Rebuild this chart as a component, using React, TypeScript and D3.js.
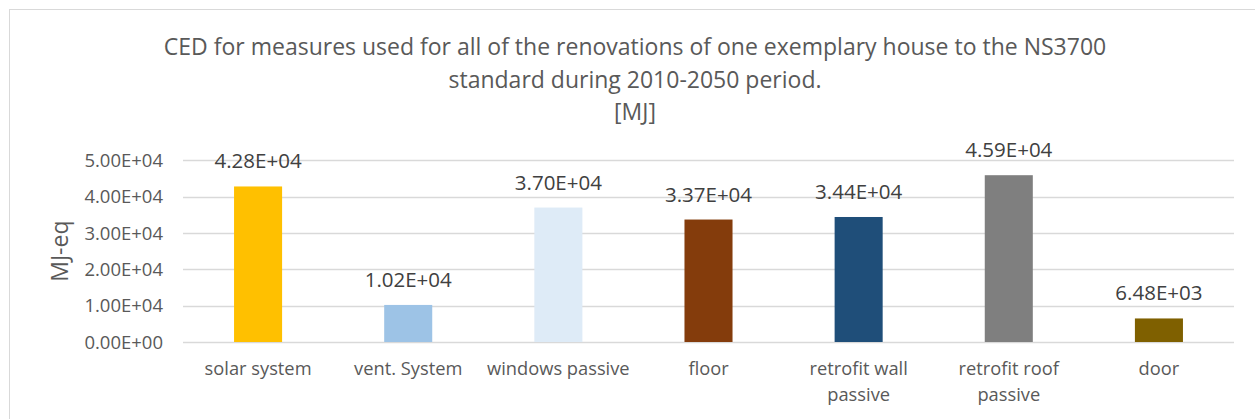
import React, {useEffect, useRef} from 'react';
import * as d3 from "d3";

const categories = [
    ["solar system"],
    ["vent. System"],
    ["windows passive"],
    ["floor"],
    ["retrofit wall", "passive"],
    ["retrofit roof", "passive"],
    ["door"]
];
const values = [42800, 10200, 37000, 33700, 34400, 45900, 6480];
const valueLabels = ["4.28E+04", "1.02E+04", "3.70E+04", "3.37E+04", "3.44E+04", "4.59E+04", "6.48E+03"];
const barColors = ["#FFC000", "#9DC3E6", "#DEEBF7", "#843C0C", "#1F4E79", "#7F7F7F", "#7F6000"];
const yTicks = [0, 10000, 20000, 30000, 40000, 50000];
const yTickLabels = ["0.00E+00", "1.00E+04", "2.00E+04", "3.00E+04", "4.00E+04", "5.00E+04"];
const titleLines = [
    "CED for measures used for all of the renovations of one exemplary house to the NS3700",
    "standard during 2010-2050 period.",
    "[MJ]"
];
const yTitle = "MJ-eq";

const W = 1255, H = 419;
const font = "'Open Sans', 'Noto Sans', sans-serif";
const textColor = "#595959";

function App() {
    const ref = useRef<SVGSVGElement>(null);

    useEffect(() => {
        const margin = {top: 160, right: 21, bottom: 77, left: 183};
        const svg = d3.select(ref.current);
        svg.selectAll("*").remove();

        //chart frame
        svg.append("rect")
            .attr("x", 9.5).attr("y", 9.5)
            .attr("width", 1252).attr("height", 420)
            .attr("fill", "white")
            .attr("stroke", "#D9D9D9")
            .attr("stroke-width", 1);

        //title
        const title = svg.append("text")
            .attr("text-anchor", "middle")
            .attr("font-family", font)
            .attr("font-size", 23)
            .attr("fill", textColor);
        titleLines.forEach((t, i) => {
            title.append("tspan")
                .attr("x", 635)
                .attr("y", 55 + i * 32.5)
                .text(t);
        });

        const xScale = d3.scaleBand()
            .domain(categories.map(c => c.join(" ")))
            .range([margin.left, W - margin.right])
            .paddingInner(0.68)
            .paddingOuter(0.34);

        const yScale = d3.scaleLinear()
            .domain([0, 50000])
            .range([H - margin.bottom, margin.top + 0.3]);

        //gridlines
        svg.append("g")
            .selectAll("line")
            .data(yTicks)
            .join("line")
            .attr("x1", margin.left)
            .attr("x2", W - margin.right)
            .attr("y1", d => Math.round(yScale(d)) + 0.5)
            .attr("y2", d => Math.round(yScale(d)) + 0.5)
            .attr("stroke", "#D9D9D9")
            .attr("stroke-width", 1.3);

        //y tick labels
        svg.append("g")
            .selectAll("text")
            .data(yTicks)
            .join("text")
            .attr("x", 163)
            .attr("y", d => yScale(d))
            .attr("dy", "0.36em")
            .attr("text-anchor", "end")
            .attr("font-family", font)
            .attr("font-size", 18.5)
            .attr("fill", textColor)
            .text((d, i) => yTickLabels[i]);

        //y axis title
        svg.append("text")
            .attr("transform", `translate(68, ${(yScale(0) + yScale(50000)) / 2}) rotate(-90)`)
            .attr("text-anchor", "middle")
            .attr("font-family", font)
            .attr("font-size", 23)
            .attr("fill", textColor)
            .text(yTitle);

        //bars
        svg.append("g")
            .selectAll("rect")
            .data(values)
            .join("rect")
            .attr("x", (d, i) => xScale(categories[i].join(" "))!)
            .attr("width", xScale.bandwidth())
            .attr("y", d => yScale(d))
            .attr("height", d => yScale(0) - yScale(d))
            .attr("fill", (d, i) => barColors[i]);

        //value labels
        svg.append("g")
            .selectAll("text")
            .data(values)
            .join("text")
            .attr("x", (d, i) => xScale(categories[i].join(" "))! + xScale.bandwidth() / 2)
            .attr("y", d => yScale(d) - 18)
            .attr("text-anchor", "middle")
            .attr("font-family", font)
            .attr("font-size", 20.5)
            .attr("fill", "#404040")
            .text((d, i) => valueLabels[i]);

        //category labels
        const cat = svg.append("g")
            .selectAll("text")
            .data(categories)
            .join("text")
            .attr("text-anchor", "middle")
            .attr("font-family", font)
            .attr("font-size", 18.3)
            .attr("fill", textColor);
        cat.each(function (c) {
            const x = xScale(c.join(" "))! + xScale.bandwidth() / 2;
            c.forEach((line, j) => {
                d3.select(this).append("tspan")
                    .attr("x", x)
                    .attr("y", 375 + j * 25.5)
                    .text(line);
            });
        });
    }, []);

    return (
        <svg ref={ref} width={W} height={H}
             style={{position: "absolute", left: 0, top: 0, background: "white"}}/>
    );
}

export default App;
